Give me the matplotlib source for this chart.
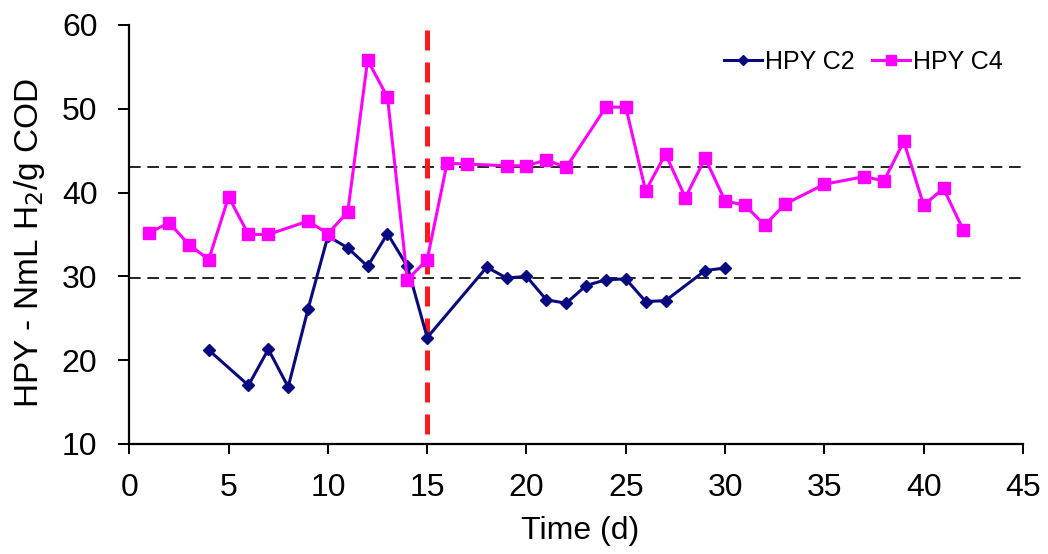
import matplotlib.pyplot as plt

plt.rcParams['font.family'] = ['Liberation Sans', 'DejaVu Sans']

# HPY C2 series
days_c2 = [4, 6, 7, 8, 9, 10, 11, 12, 13, 14, 15, 18, 19, 20, 21, 22, 23, 24, 25, 26, 27, 29, 30]
hpy_c2 = [21.2, 17.0, 21.3, 16.8, 26.1, 34.8, 33.4, 31.2, 35.1, 31.2, 22.7, 31.1, 29.8, 30.0,
          27.2, 26.8, 28.9, 29.6, 29.7, 27.0, 27.1, 30.7, 31.0]

# HPY C4 series
days_c4 = [1, 2, 3, 4, 5, 6, 7, 9, 10, 11, 12, 13, 14, 15, 16, 17, 19, 20, 21, 22, 24, 25,
           26, 27, 28, 29, 30, 31, 32, 33, 35, 37, 38, 39, 40, 41, 42]
hpy_c4 = [35.2, 36.4, 33.8, 32.0, 39.5, 35.0, 35.0, 36.6, 35.1, 37.7, 55.8, 51.4, 29.6, 32.0,
          43.5, 43.4, 43.2, 43.2, 43.9, 43.0, 50.2, 50.2, 40.2, 44.6, 39.4, 44.1, 39.0,
          38.5, 36.1, 38.6, 41.0, 41.9, 41.4, 46.1, 38.5, 40.5, 35.5]

ref_levels = [43.0, 29.8]
switch_day = 15

fig = plt.figure(figsize=(10.48, 5.54), dpi=100)
ax = fig.add_axes([0.1234, 0.1986, 0.8527, 0.7563])

for lvl in ref_levels:
    ax.axhline(lvl, color='black', linestyle=(0, (7, 4)), linewidth=1.2, zorder=1)

# drawn top-down so the dash pattern starts at the top
ax.plot([switch_day, switch_day], [59.4, 10], color='#ff1a1a', linestyle=(0, (4, 2.4)),
        linewidth=3.6, zorder=2)

ax.plot(days_c2, hpy_c2, color='#0a0a80', marker='D', markersize=6.5, linewidth=2.2,
        label='HPY C2', zorder=3)
ax.plot(days_c4, hpy_c4, color='#ff00ff', marker='s', markersize=8.5, linewidth=2.2,
        label='HPY C4', zorder=3)

ax.set_xlim(0, 45)
ax.set_ylim(10, 60)
ax.set_xticks(range(0, 46, 5))
ax.set_yticks(range(10, 61, 10))

ax.spines['top'].set_visible(False)
ax.spines['right'].set_visible(False)
ax.spines['left'].set_linewidth(1.6)
ax.spines['bottom'].set_linewidth(1.6)
ax.tick_params(axis='y', direction='out', length=8, width=1.4, labelsize=23, pad=15)
ax.tick_params(axis='x', direction='out', length=7, width=1.4, labelsize=23, pad=14)

ax.set_xlabel('Time (d)', fontsize=23)
ax.set_ylabel('HPY - NmL H$_2$/g COD', fontsize=24)
ax.xaxis.set_label_coords(0.505, -0.172)
ax.yaxis.set_label_coords(-0.092, 0.48)

ax.legend(loc='center', bbox_to_anchor=(0.824, 0.888), bbox_transform=fig.transFigure,
          ncol=2, frameon=False, fontsize=18, handlelength=1.5, handletextpad=0.12,
          columnspacing=0.72, markerscale=0.85)

plt.savefig('out.png', dpi=100)
plt.close()
